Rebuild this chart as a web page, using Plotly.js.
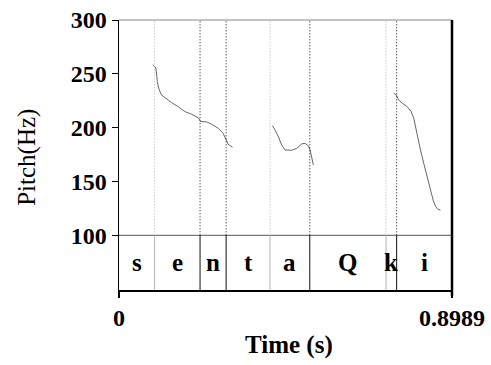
<!DOCTYPE html>
<html>
<head>
<meta charset="utf-8">
<script src="https://cdn.plot.ly/plotly-3.0.1.min.js"></script>
<style>html,body{margin:0;padding:0;background:#fff;}#chart{width:491px;height:365px;}</style>
</head>
<body>
<div id="chart"></div>
<script>
// ---- data ----
const totalDuration = 0.8989;
const yTickVals = [100, 150, 200, 250, 300];
const xTickVals = [0, 0.8989];
const xTickText = ["0", "0.8989"];

// segment labels and their end times (first starts at 0)
const segLabels = ["s", "e", "n", "t", "a", "Q", "k", "i"];
const segEnds = [0.0961, 0.2188, 0.2892, 0.4075, 0.5150, 0.7208, 0.7495, 0.8989];
// boundary kind: 1 = dark boundary, 0 = light boundary (for inner boundaries)
const boundaryKind = [0, 1, 1, 0, 1, 0, 1];

// pitch contours (time s, Hz)
const c1t = [0.0915, 0.0997, 0.1034, 0.1070, 0.1143, 0.1232, 0.1413, 0.1592, 0.1774, 0.1955, 0.2134, 0.2207, 0.2361, 0.2497, 0.2675, 0.2811, 0.2903, 0.2946, 0.3065];
const c1f = [258.5, 255.4, 242.9, 236.8, 230.5, 228.0, 223.4, 219.6, 215.0, 212.5, 209.4, 205.6, 205.4, 203.2, 199.5, 194.8, 188.6, 184.6, 181.8];
const c2t = [0.4138, 0.4211, 0.4300, 0.4392, 0.4481, 0.4663, 0.4798, 0.4934, 0.5023, 0.5112, 0.5158, 0.5204, 0.5248];
const c2f = [201.9, 197.9, 191.7, 183.9, 179.3, 179.0, 180.8, 184.9, 185.5, 183.0, 179.3, 173.0, 165.3];
const c3t = [0.7414, 0.7479, 0.7549, 0.7641, 0.7777, 0.7885, 0.7956, 0.8002, 0.8048, 0.8138, 0.8226, 0.8318, 0.8408, 0.8481, 0.8543, 0.8606, 0.8678];
const c3f = [232.1, 230.5, 225.9, 222.8, 219.6, 215.0, 208.8, 201.0, 191.7, 179.3, 166.9, 154.4, 142.0, 132.6, 127.0, 124.2, 123.3];

// ---- drawing ----
const yMin = 49.2, yMax = 300, tierTop = 100;
const serif = "Liberation Serif";
const lineStyle = {color: "#666", width: 1};
const traces = [
  {x: c1t, y: c1f, mode: "lines", line: lineStyle, hoverinfo: "none"},
  {x: c2t, y: c2f, mode: "lines", line: lineStyle, hoverinfo: "none"},
  {x: c3t, y: c3f, mode: "lines", line: lineStyle, hoverinfo: "none"}
];

const shapes = [];
const annotations = [];
// horizontal line at tier top
shapes.push({type: "line", xref: "x", yref: "y", x0: 0, x1: totalDuration, y0: tierTop, y1: tierTop, line: {color: "#555", width: 1}});
// boundaries
for (let i = 0; i < segEnds.length - 1; i++) {
  const t = segEnds[i];
  const col = boundaryKind[i] ? "#111" : "#b5b5b5";
  shapes.push({type: "line", xref: "x", yref: "y", x0: t, x1: t, y0: tierTop, y1: yMax, line: {color: col, width: 1, dash: "1px,2px"}});
  shapes.push({type: "line", xref: "x", yref: "y", x0: t, x1: t, y0: yMin, y1: tierTop, line: {color: col, width: 1}});
}
// labels
let start = 0;
for (let i = 0; i < segLabels.length; i++) {
  annotations.push({x: (start + segEnds[i]) / 2, y: (yMin + tierTop) / 2, xref: "x", yref: "y", text: "<b>" + segLabels[i] + "</b>", showarrow: false,
    font: {family: serif, size: 25, color: "#000"}, xanchor: "center", yanchor: "middle"});
  start = segEnds[i];
}
// frame: top gray, right thick black
shapes.push({type: "line", xref: "paper", yref: "paper", x0: 0, x1: 1, y0: 1, y1: 1, line: {color: "#888", width: 1}});
shapes.push({type: "line", xref: "paper", yref: "paper", x0: 1, x1: 1, y0: 1, y1: -0.022, line: {color: "#000", width: 2.5}});

// axis titles
annotations.push({xref: "paper", yref: "paper", x: -0.276, y: 0.49, text: "Pitch(Hz)", textangle: -90, showarrow: false,
  font: {family: serif, size: 25, color: "#000"}, xanchor: "center", yanchor: "middle"});
annotations.push({xref: "paper", yref: "paper", x: 0.51, y: -0.205, text: "<b>Time (s)</b>", showarrow: false,
  font: {family: serif, size: 25, color: "#000"}, xanchor: "center", yanchor: "middle"});

const layout = {
  width: 491, height: 365,
  margin: {l: 119, r: 39, t: 20, b: 75},
  paper_bgcolor: "#fff", plot_bgcolor: "#fff",
  showlegend: false,
  xaxis: {range: [0, totalDuration], tickvals: xTickVals, ticktext: xTickText.map(s => "<b>" + s + "</b>"), ticks: "outside", ticklen: 6, tickwidth: 1.5, tickcolor: "#000",
    showline: true, linecolor: "#000", linewidth: 1.5, showgrid: false, zeroline: false,
    tickfont: {family: serif, size: 24, color: "#000"}},
  yaxis: {range: [yMin, yMax], tickvals: yTickVals, ticktext: yTickVals.map(v => "<b>" + v + "</b>"), ticks: "outside", ticklen: 6, tickwidth: 1, tickcolor: "#000",
    showline: true, linecolor: "#000", linewidth: 1.5, showgrid: false, zeroline: false,
    tickfont: {family: serif, size: 24, color: "#000"}},
  shapes: shapes,
  annotations: annotations
};
Plotly.newPlot("chart", traces, layout, {staticPlot: true, displayModeBar: false});
</script>
</body>
</html>
